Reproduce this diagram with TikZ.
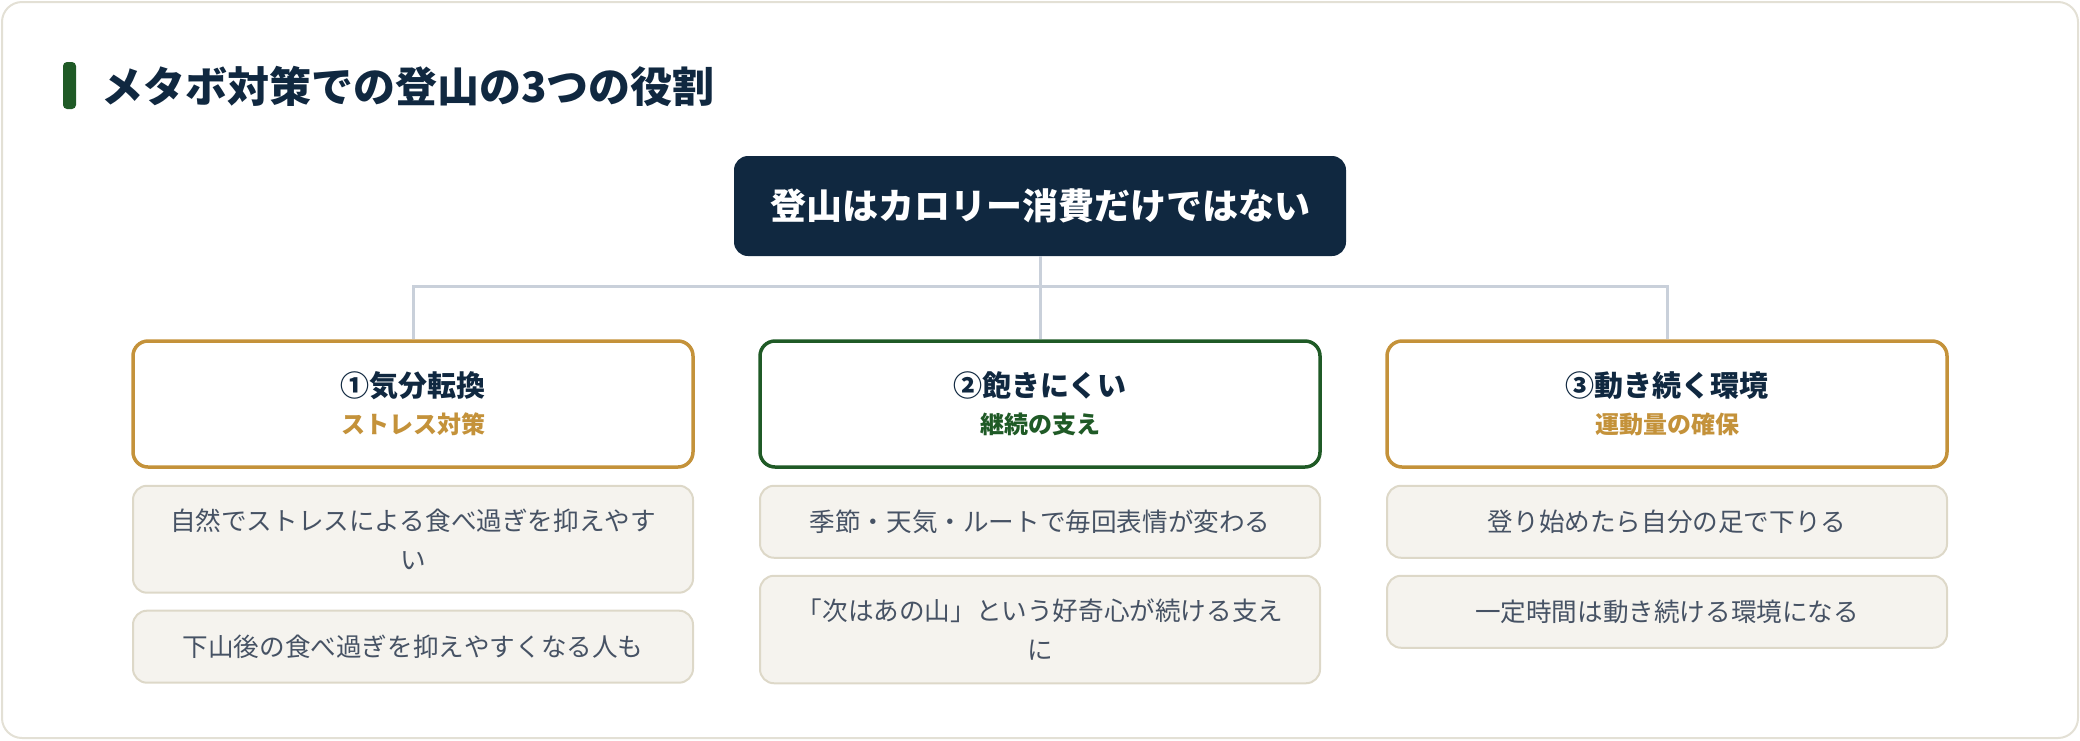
\documentclass[tikz,border=0pt]{standalone}
\usepackage{fontspec}
\setmainfont{Noto Sans CJK JP}
\usepackage{tikz}
\usetikzlibrary{calc,positioning}
\definecolor{navy}{HTML}{102840}
\definecolor{leaf}{HTML}{1F5A26}
\definecolor{gold}{HTML}{C4923A}
\definecolor{itemfill}{HTML}{F5F3EE}
\definecolor{itemline}{HTML}{DDD8C8}
\definecolor{itemtext}{HTML}{465264}
\definecolor{linkgray}{HTML}{C9D0DA}
\definecolor{framegray}{HTML}{E3E0D5}

\begin{document}
\begin{tikzpicture}[x=0.5pt, y=-0.5pt,
  topbox/.style={fill=navy, text=white, rounded corners=7pt, minimum width=306pt, minimum height=50pt, font=\bfseries\fontsize{18}{22}\selectfont},
  card/.style={draw=#1, line width=1.75pt, fill=white, rounded corners=7.5pt, minimum width=280pt, minimum height=63pt, align=center, font=\bfseries\fontsize{12}{18.5}\selectfont},
  item/.style={draw=itemline, line width=1pt, fill=itemfill, rounded corners=7pt, minimum width=280pt, minimum height=36pt, inner ysep=11.5pt, text width=262pt, align=center, text=itemtext, font=\fontsize{12.8}{19.5}\selectfont},
  link/.style={draw=linkgray, line width=1.5pt}]
\def\cardy{404}
\def\gap{8pt}

%% frame and heading
\useasboundingbox (0,0) rectangle (2080,740);
\draw[framegray, line width=1pt, rounded corners=10pt] (2,2) rectangle (2078,738);
\fill[leaf, rounded corners=2pt] (63,62) rectangle (76,109);
\node[anchor=west, inner sep=0pt, text=navy, font=\bfseries\fontsize{21}{25}\selectfont] (title) at (101,86) {メタボ対策での登山の3つの役割};

%% root
\node[topbox] (top) at (1040,206) {登山はカロリー消費だけではない};

%% the three roles
\node[card=gold] (c1) at (413,\cardy) {{\color{navy}\fontsize{14.5}{18.5}\selectfont ①気分転換}\\{\color{gold}ストレス対策}};
\node[card=leaf] (c2) at (1040,\cardy) {{\color{navy}\fontsize{14.5}{18.5}\selectfont ②飽きにくい}\\{\color{leaf}継続の支え}};
\node[card=gold] (c3) at (1667,\cardy) {{\color{navy}\fontsize{14.5}{18.5}\selectfont ③動き続く環境}\\{\color{gold}運動量の確保}};

\draw[link] (top.south) -- ++(0,-15pt) -| (c1.north);
\draw[link] (top.south) -- ++(0,-15pt) -| (c3.north);
\draw[link] (top.south) -- (c2.north);

%% details
\node[item, below=\gap of c1] (c1a) {自然でストレスによる食べ過ぎを抑えやす\\い};
\node[item, below=\gap of c1a] (c1b) {下山後の食べ過ぎを抑えやすくなる人も};
\node[item, below=\gap of c2] (c2a) {季節・天気・ルートで毎回表情が変わる};
\node[item, below=\gap of c2a] (c2b) {「次はあの山」という好奇心が続ける支え\\に};
\node[item, below=\gap of c3] (c3a) {登り始めたら自分の足で下りる};
\node[item, below=\gap of c3a] (c3b) {一定時間は動き続ける環境になる};
\end{tikzpicture}
\end{document}
